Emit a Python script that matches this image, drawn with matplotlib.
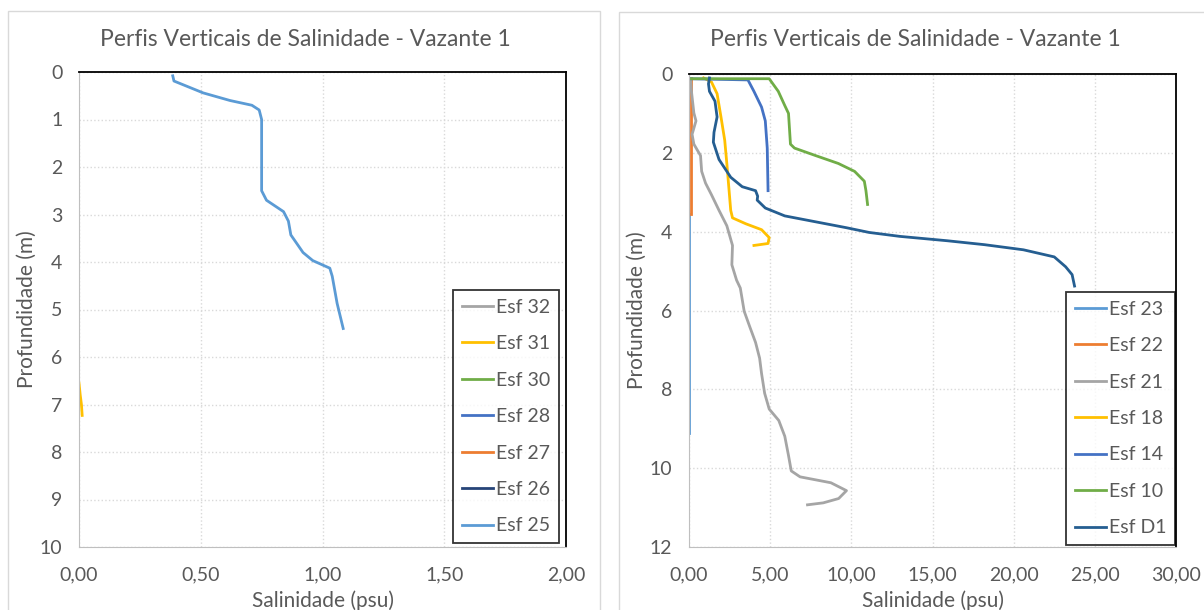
import matplotlib.pyplot as plt
from matplotlib.patches import Rectangle

plt.rcParams['font.family'] = ['Lato', 'DejaVu Sans']

# ---- left chart data (salinity psu, depth m) ----
esf25_s = [0.385, 0.39, 0.51, 0.62, 0.71, 0.74, 0.75, 0.75, 0.75, 0.77, 0.84, 0.86, 0.87, 0.92, 0.96, 1.03, 1.04, 1.06, 1.085]
esf25_d = [0.08, 0.19, 0.44, 0.60, 0.70, 0.80, 1.00, 1.75, 2.50, 2.70, 2.94, 3.14, 3.43, 3.80, 3.97, 4.13, 4.30, 4.87, 5.40]
esf31_s = [0.0, 0.005, 0.01, 0.013]
esf31_d = [6.55, 6.8, 7.0, 7.23]
left_names = ['Esf 32', 'Esf 31', 'Esf 30', 'Esf 28', 'Esf 27', 'Esf 26', 'Esf 25']
left_colors = ['#A5A5A5', '#FFC000', '#70AD47', '#4472C4', '#ED7D31', '#264478', '#5B9BD5']
left_data = [([], []), (esf31_s, esf31_d), ([], []), ([], []), ([], []), ([], []), (esf25_s, esf25_d)]

# ---- right chart data ----
esf23_s = [0.0, 0.0]
esf23_d = [3.55, 9.1]
esf22_s = [0.12, 0.12]
esf22_d = [0.10, 3.56]
esf21_s = [0.10, 0.14, 0.30, 0.43, 0.19, 0.30, 0.71, 0.78, 1.02, 1.38, 1.85, 2.33, 2.68, 2.64, 2.93, 3.16, 3.40, 3.75,
           4.10, 4.35, 4.47, 4.66, 4.94, 5.53, 5.90, 6.13, 6.30, 6.84, 8.74, 9.70, 9.22, 8.27, 7.30]
esf21_d = [0.12, 0.40, 0.99, 1.19, 1.53, 1.78, 2.07, 2.47, 2.77, 3.06, 3.46, 3.85, 4.35, 4.84, 5.23, 5.43, 6.02, 6.42,
           6.81, 7.21, 7.60, 8.10, 8.50, 8.79, 9.19, 9.68, 10.07, 10.22, 10.37, 10.57, 10.77, 10.88, 10.93]
esf18_s = [0.9, 1.38, 1.73, 1.97, 2.20, 2.33, 2.45, 2.57, 2.68, 3.50, 4.47, 4.94, 4.87, 4.00]
esf18_d = [0.10, 0.20, 0.50, 1.09, 1.68, 2.27, 2.86, 3.46, 3.65, 3.80, 3.95, 4.15, 4.30, 4.35]
esf14_s = [0.0, 3.63, 4.00, 4.47, 4.70, 4.82, 4.87]
esf14_d = [0.12, 0.15, 0.44, 0.84, 1.19, 1.88, 2.96]
esf10_s = [0.0, 4.94, 5.50, 5.90, 6.13, 6.25, 6.50, 7.80, 9.20, 10.20, 10.80, 10.90, 11.00]
esf10_d = [0.12, 0.12, 0.44, 0.80, 1.00, 1.78, 1.88, 2.07, 2.27, 2.47, 2.72, 2.96, 3.31]
esfD1_s = [1.26, 1.20, 1.26, 1.60, 1.73, 1.54, 1.50, 1.85, 2.57, 3.28, 4.10, 4.23, 4.20, 4.70, 5.90, 7.80, 9.70,
           11.1, 13.0, 15.9, 18.2, 20.6, 22.5, 23.2, 23.6, 23.75]
esfD1_d = [0.10, 0.25, 0.44, 0.69, 1.09, 1.48, 1.73, 2.17, 2.62, 2.86, 2.96, 3.10, 3.20, 3.40, 3.60, 3.75, 3.90,
           4.02, 4.12, 4.23, 4.33, 4.46, 4.64, 4.89, 5.09, 5.38]
right_names = ['Esf 23', 'Esf 22', 'Esf 21', 'Esf 18', 'Esf 14', 'Esf 10', 'Esf D1']
right_colors = ['#5B9BD5', '#ED7D31', '#A5A5A5', '#FFC000', '#4472C4', '#70AD47', '#255E91']
right_data = [(esf23_s, esf23_d), (esf22_s, esf22_d), (esf21_s, esf21_d), (esf18_s, esf18_d),
              (esf14_s, esf14_d), (esf10_s, esf10_d), (esfD1_s, esfD1_d)]

title = 'Perfis Verticais de Salinidade - Vazante 1'

W, H = 1204, 610
fig = plt.figure(figsize=(W / 100, H / 100), dpi=100)

# chart area borders (Excel style)
fig.patches.append(Rectangle((8 / W, -0.05), 592 / W, 1.05 - 11 / H, transform=fig.transFigure,
                             fill=False, edgecolor='#D9D9D9', lw=1))
fig.patches.append(Rectangle((619 / W, -0.05), 600 / W, 1.05 - 12 / H, transform=fig.transFigure,
                             fill=False, edgecolor='#D9D9D9', lw=1))

txt = '#595959'


def setup(ax, xmax, ymax, ystep, xticks):
    ax.set_xlim(0, xmax)
    ax.set_ylim(ymax, 0)
    ax.set_yticks(range(0, ymax + 1, ystep))
    ax.set_xticks(xticks)
    ax.set_xticklabels([('%.2f' % v).replace('.', ',') for v in xticks])
    ax.tick_params(length=0, labelsize=14, colors=txt)
    ax.tick_params(axis='x', pad=14)
    ax.tick_params(axis='y', pad=12)
    ax.grid(True, color='#D9D9D9', linestyle=':', lw=1)
    ax.set_axisbelow(True)
    for s in ['top', 'right']:
        ax.spines[s].set_color('#000000')
        ax.spines[s].set_linewidth(1.3)
    for s in ['left', 'bottom']:
        ax.spines[s].set_color('#BFBFBF')
    ax.set_xlabel('Salinidade (psu)', fontsize=15, color=txt, labelpad=5)
    ax.set_ylabel('Profundidade (m)', fontsize=15, color=txt, labelpad=2)


ax1 = fig.add_axes([79 / W, (H - 547) / H, 487 / W, 475 / H])
for name, col, (s, d) in zip(left_names, left_colors, left_data):
    ax1.plot(s, d, color=col, lw=2, label=name)
setup(ax1, 2, 10, 1, [0, 0.5, 1.0, 1.5, 2.0])
leg1 = ax1.legend(loc='lower right', bbox_to_anchor=(0.986, 0.008), fontsize=14, frameon=True, fancybox=False,
                  edgecolor='black', borderaxespad=0, handlelength=1.6, handletextpad=0.15, labelspacing=1.0,
                  borderpad=0.45, labelcolor=txt)
leg1.get_frame().set_linewidth(1.3)

ax2 = fig.add_axes([689 / W, (H - 547) / H, 487 / W, 473 / H])
for name, col, (s, d) in zip(right_names, right_colors, right_data):
    ax2.plot(s, d, color=col, lw=2, label=name)
setup(ax2, 30, 12, 2, [0, 5, 10, 15, 20, 25, 30])
leg2 = ax2.legend(loc='lower right', bbox_to_anchor=(0.998, 0.004), fontsize=14, frameon=True, fancybox=False,
                  edgecolor='black', borderaxespad=0, handlelength=1.6, handletextpad=0.15, labelspacing=1.0,
                  borderpad=0.45, labelcolor=txt)
leg2.get_frame().set_linewidth(1.3)
leg2.set_zorder(5)

# titles centred on each chart area
fig.text(305 / W, 1 - 40 / H, title, fontsize=16.5, color=txt, ha='center', va='center')
fig.text(915 / W, 1 - 40 / H, title, fontsize=16.5, color=txt, ha='center', va='center')

fig.savefig('out.png', dpi=100)
